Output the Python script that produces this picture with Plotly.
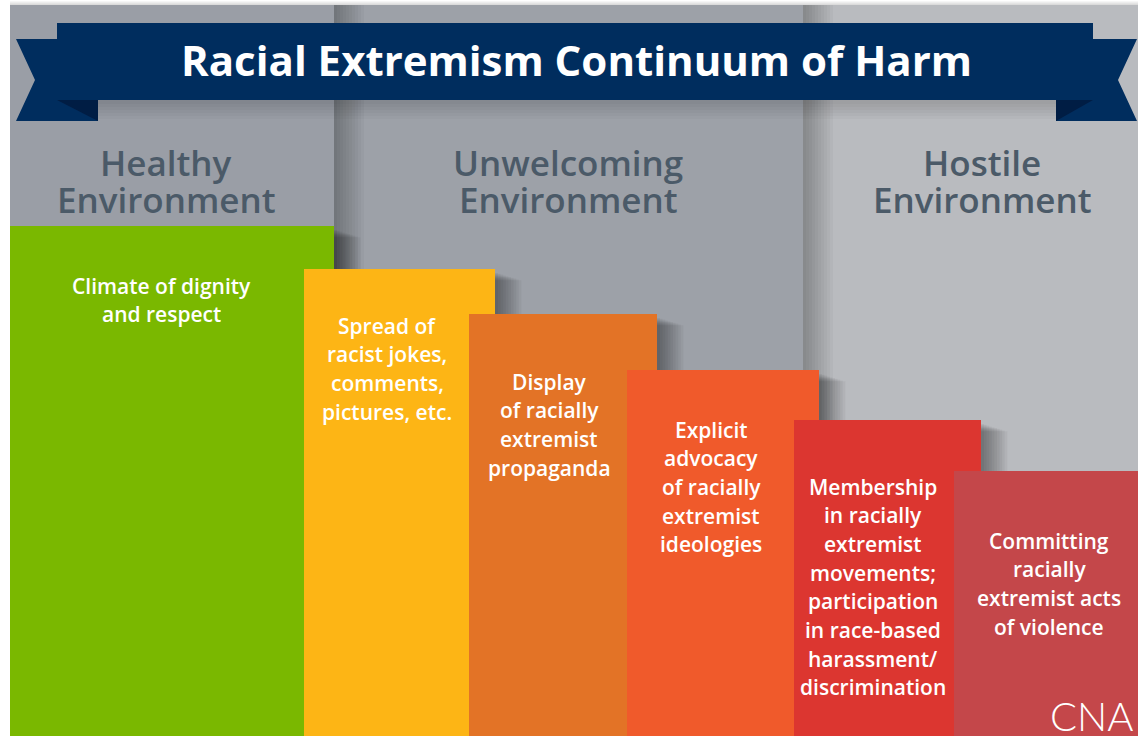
import plotly.graph_objects as go

W, H = 1138, 736

# ---- data ----
title = "Racial Extremism Continuum of Harm"
environments = ["Healthy<br>Environment", "Unwelcoming<br>Environment", "Hostile<br>Environment"]
steps = [
    "Climate of dignity<br>and respect",
    "Spread of<br>racist jokes,<br>comments,<br>pictures, etc.",
    "Display<br>of racially<br>extremist<br>propaganda",
    "Explicit<br>advocacy<br>of racially<br>extremist<br>ideologies",
    "Membership<br>in racially<br>extremist<br>movements;<br>participation<br>in race-based<br>harassment/<br>discrimination",
    "Committing<br>racially<br>extremist acts<br>of violence",
]
step_level = [510, 467, 422, 366, 316, 265]

# ---- layout / styles ----
step_left = [10, 304, 469, 627, 794, 954]
step_right = [334, 495, 657, 819, 981, 1138]
step_colors = ["#7ab800", "#fdb515", "#e37326", "#f05a2b", "#dc3630", "#c4474a"]
text_first_px = [285, 325, 381, 429, 486, 540]
text_center = [161, 387, 549, 711, 873, 1049]
line_gap = 28.7

panel_x = [(10, 334), (334, 803), (803, 1138)]
panel_colors = ["#9a9ea6", "#9da1a8", "#b9bbbf"]
env_center = [166, 568, 982]

def Y(ypx):
    return H - ypx

shapes = []
shapes.append(dict(type="rect", x0=0, x1=W, y0=0, y1=H, fillcolor="white", line_width=0, layer="below"))
for (a, b), c in zip(panel_x, panel_colors):
    shapes.append(dict(type="rect", x0=a, x1=b, y0=Y(736), y1=Y(5), fillcolor=c, line_width=0, layer="below"))
for k in range(4):
    shapes.append(dict(type="rect", x0=10, x1=W, y0=Y(5), y1=Y(4 - k),
                       fillcolor="rgba(0,0,0,0.035)", line_width=0, layer="below"))
for bx in [334, 803]:
    for k in range(10):
        w = 3 + k * 3
        shapes.append(dict(type="rect", x0=bx, x1=bx + w, y0=Y(736), y1=Y(5),
                           fillcolor="rgba(0,0,0,0.028)", line_width=0, layer="below"))
for i in range(len(steps)):
    r = step_right[i]
    top = H - step_level[i]
    if r >= W:
        continue
    for k in range(10):
        w = 3 + k * 2.6
        shapes.append(dict(type="rect", x0=r, x1=r + w, y0=0, y1=Y(top + 4 + k * 0.8),
                           fillcolor="rgba(0,0,0,0.045)", line_width=0, layer="below"))
for k in range(6):
    shapes.append(dict(type="rect", x0=40, x1=1120, y0=Y(100 + 4 + k * 3), y1=Y(100),
                       fillcolor="rgba(0,0,0,0.025)", line_width=0, layer="above"))

def path(pts):
    return "M " + " L ".join(f"{x},{Y(y)}" for x, y in pts) + " Z"

navy = "#002d5e"
fold = "#001d44"
shapes.append(dict(type="path", path=path([(16, 39), (98, 39), (98, 121), (16, 121), (35, 80)]),
                   fillcolor=navy, line_width=0, layer="above"))
shapes.append(dict(type="path", path=path([(1056, 39), (1137, 39), (1118, 80), (1137, 121), (1056, 121)]),
                   fillcolor=navy, line_width=0, layer="above"))
shapes.append(dict(type="path", path=path([(57, 100), (98, 100), (98, 121)]),
                   fillcolor=fold, line_width=0, layer="above"))
shapes.append(dict(type="path", path=path([(1056, 100), (1093, 100), (1056, 121)]),
                   fillcolor=fold, line_width=0, layer="above"))
shapes.append(dict(type="rect", x0=57, x1=1093, y0=Y(100), y1=Y(23), fillcolor=navy, line_width=0, layer="above"))

fig = go.Figure()
fig.add_trace(go.Bar(
    x=[(l + r) / 2 for l, r in zip(step_left, step_right)],
    width=[r - l for l, r in zip(step_left, step_right)],
    y=step_level, base=0,
    marker=dict(color=step_colors, line=dict(width=0)),
    hoverinfo="skip", showlegend=False,
))

annotations = []
annotations.append(dict(x=576, y=Y(59), text="<b>" + title + "</b>", showarrow=False,
                        font=dict(family="Open Sans", size=42, color="white"), xanchor="center", yanchor="middle"))
for env, cx in zip(environments, env_center):
    for j, line in enumerate(env.split("<br>")):
        annotations.append(dict(x=cx, y=Y(162 + j * 37), text=line, showarrow=False,
                                font=dict(family="Open Sans", size=35, color="#4b5a68", weight=600),
                                xanchor="center", yanchor="middle"))
for i, s in enumerate(steps):
    for j, line in enumerate(s.split("<br>")):
        annotations.append(dict(x=text_center[i], y=Y(text_first_px[i] + j * line_gap), text=line,
                                showarrow=False, height=27,
                                font=dict(family="Open Sans", size=21, color="white", weight=600),
                                xanchor="center", yanchor="middle"))
annotations.append(dict(x=1091, y=Y(716), text="CNA", showarrow=False, height=36,
                        font=dict(family="Lato", size=40, color="white", weight=300),
                        xanchor="center", yanchor="middle"))

fig.update_layout(
    width=W, height=H, margin=dict(l=0, r=0, t=0, b=0),
    paper_bgcolor="white", plot_bgcolor="white",
    xaxis=dict(range=[0, W], visible=False, fixedrange=True),
    yaxis=dict(range=[0, H], visible=False, fixedrange=True),
    barmode="overlay", bargap=0,
    shapes=shapes, annotations=annotations,
)
fig.write_html("out.html", config={"displayModeBar": False},
               post_script="document.body.style.margin='0';document.body.style.overflow='hidden';")
